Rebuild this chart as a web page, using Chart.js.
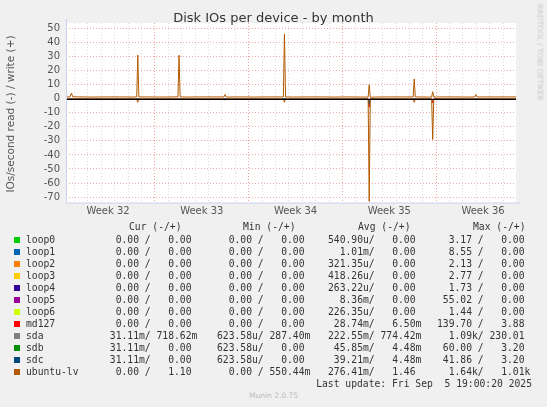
<!DOCTYPE html>
<html><head><meta charset="utf-8">
<script src="https://cdn.jsdelivr.net/npm/chart.js@4/dist/chart.umd.min.js"></script>
<style>
body{margin:0;background:#f0f0f0;width:547px;height:407px;position:relative;overflow:hidden;font-family:"DejaVu Sans",sans-serif}
#c{position:absolute;left:0;top:0}
.abs{position:absolute;white-space:pre}
.mono{font-family:"DejaVu Sans Mono",monospace;font-size:9.7px;color:#333;line-height:12px}
.sq{position:absolute;width:6px;height:6px}
</style></head><body>
<canvas id="c" width="547" height="225"></canvas>
<div class="abs" style="left:0;width:547px;top:10px;text-align:center;font-size:13px;color:#333">Disk IOs per device - by month</div>
<div class="abs" style="left:-90px;top:108px;width:200px;text-align:center;font-size:10.5px;color:#555;transform:rotate(-90deg)">IOs/second read (-) / write (+)</div>
<div class="abs" style="left:490px;top:48px;width:100px;text-align:center;font-size:7.5px;color:#c8c8c8;transform:rotate(90deg)">RRDTOOL / TOBI OETIKER</div>
<div class="abs" style="left:0;width:547px;top:391px;text-align:center;font-size:7.5px;color:#bbb">Munin 2.0.75</div>
<div id="leg"></div>
<script>
const weekLabels=['Week 32','Week 33','Week 34','Week 35','Week 36'];
const weekMid=[3.14,10.14,17.14,24.14,31.14];
const yTicks=[-70,-60,-50,-40,-30,-20,-10,0,10,20,30,40,50];
const lvX=[0,0.3,0.41,0.5, 1,2,3,4,5, 5.28,5.36,5.44, 6,7,8, 8.36,8.44,8.52, 9,10,11, 11.8,11.88,11.96, 12,13,14,15,16, 16.23,16.31,16.39, 17,18,19,20,21,22, 22.56,22.64,22.72, 23,24,25, 25.92,26,26.08, 27, 27.3,27.38,27.46, 28,29,30, 30.52,30.6,30.68, 31,32,33,33.6];
const lvWrite=[1.3,1.3,4,1.4, 1.3,1.2,1.3,1.3,1.2, 1.3,31,1.3, 1.3,1.2,1.3, 1.3,31,1.3, 1.2,1.3,1.3, 1.3,3,1.3, 1.2,1.3,1.2,1.3,1.3, 1.3,46,1.3, 1.2,1.3,1.3,1.2,1.3,1.2, 1.2,10,1.0, 1.2,1.3,1.3, 1.3,14,1.3, 1.2, 1.2,5,1.2, 1.3,1.3,1.2, 1.3,3,1.3, 1.3,1.3,1.3,1.3];
const lvRead=[-0.1,-0.1,-0.6,-0.1, -0.1,-0.1,-0.1,-0.1,-0.1, -0.1,-2.5,-0.1, -0.1,-0.1,-0.1, -0.1,-0.5,-0.1, -0.1,-0.1,-0.1, -0.1,-1,-0.1, -0.1,-0.1,-0.1,-0.1,-0.1, -0.1,-2.5,-0.1, -0.1,-0.1,-0.1,-0.1,-0.1,-0.1, -0.2,-73,-0.2, -0.1,-0.1,-0.1, -0.1,-2.5,-0.1, -0.1, -0.2,-29,-0.2, -0.1,-0.1,-0.1, -0.1,-0.8,-0.1, -0.1,-0.1,-0.1,-0.1];
const mdX=[0,22.56,22.64,22.72,27.3,27.38,27.46,33.6];
const mdRead=[0,0,-6,0,0,-3,0,0];
const sdcRead=[0,0,-4,0,0,-1,0,0];
const names=['loop0','loop1','loop2','loop3','loop4','loop5','loop6','md127','sda','sdb','sdc','ubuntu-lv'];
const colors=['#00cc00','#0066b3','#ff8000','#ffcc00','#330099','#990099','#ccff00','#ff0000','#808080','#008f00','#00487d','#b35a00'];
const cur=['  0.00 /   0.00','  0.00 /   0.00','  0.00 /   0.00','  0.00 /   0.00','  0.00 /   0.00','  0.00 /   0.00','  0.00 /   0.00','  0.00 /   0.00',' 31.11m/ 718.62m',' 31.11m/   0.00',' 31.11m/   0.00','  0.00 /   1.10'];
const mins=['  0.00 /   0.00','  0.00 /   0.00','  0.00 /   0.00','  0.00 /   0.00','  0.00 /   0.00','  0.00 /   0.00','  0.00 /   0.00','  0.00 /   0.00','623.58u/ 287.40m','623.58u/   0.00','623.58u/   0.00','  0.00 / 550.44m'];
const avgs=['540.90u/   0.00','  1.01m/   0.00','321.35u/   0.00','418.26u/   0.00','263.22u/   0.00','  8.36m/   0.00','226.35u/   0.00',' 28.74m/   6.50m','222.55m/ 774.42m',' 45.85m/   4.48m',' 39.21m/   4.48m','276.41m/   1.46'];
const maxs=['  3.17 /   0.00','  8.55 /   0.00','  2.13 /   0.00','  2.77 /   0.00','  1.73 /   0.00',' 55.02 /   0.00','  1.44 /   0.00','139.70 /   3.88','  1.09k/ 230.01',' 60.00 /   3.20',' 41.86 /   3.20','  1.64k/   1.01k'];

const leg=document.getElementById('leg');
function t(x,y,s,extra){const d=document.createElement('div');d.className='abs mono';d.style.left=x+'px';d.style.top=(y-6)+'px';d.textContent=s;if(extra)d.style.cssText+=extra;leg.appendChild(d);}
const colX=[104,217,328,437];
t(129,227,'Cur (-/+)');t(243,227,'Min (-/+)');t(358,227,'Avg (-/+)');t(473,227,'Max (-/+)');
names.forEach((n,i)=>{const y=240+i*12;
 const s=document.createElement('div');s.className='sq';s.style.left='14px';s.style.top=(y-3)+'px';s.style.background=colors[i];leg.appendChild(s);
 t(26,y,n);t(colX[0],y,cur[i]);t(colX[1],y,mins[i]);t(colX[2],y,avgs[i]);t(colX[3],y,maxs[i]);});
t(0,384,'Last update: Fri Sep  5 19:00:20 2025','left:auto;right:15px;');

const pts=(xs,ys)=>xs.map((x,i)=>({x,y:ys[i]}));
const ds=(d,c)=>({data:d,borderColor:c,borderWidth:1,pointRadius:0,tension:0,fill:false});
const bg={id:'bg',beforeDraw(ch){const a=ch.chartArea,c=ch.ctx;c.save();c.fillStyle='#fff';c.fillRect(a.left,a.top,a.right-a.left,a.bottom-a.top);c.restore();},
 afterDatasetsDraw(ch){const a=ch.chartArea,c=ch.ctx,y=ch.scales.y.getPixelForValue(0);c.save();c.strokeStyle='#000';c.lineWidth=1;c.beginPath();c.moveTo(a.left,Math.round(y)+0.5);c.lineTo(a.right,Math.round(y)+0.5);c.stroke();
 c.strokeStyle='#ccd0f0';c.beginPath();c.moveTo(a.left+0.5,a.top-4);c.lineTo(a.left+0.5,a.bottom);c.lineTo(a.right+4,a.bottom);c.stroke();c.restore();}};
new Chart(document.getElementById('c'),{type:'line',
 data:{datasets:[ds(pts(lvX,lvRead),colors[11]),ds(pts(mdX,sdcRead),colors[10]),ds(pts(mdX,mdRead),colors[7]),ds(pts(lvX,lvWrite),colors[11])]},
 options:{responsive:false,animation:false,layout:{padding:{top:23,right:31,left:0,bottom:0}},
  plugins:{legend:{display:false},tooltip:{enabled:false}},
  scales:{
   x:{type:'linear',min:0,max:33.6,
    afterBuildTicks(s){const a=[];for(let k=1;k<=33;k++)a.push({value:-0.36+k});weekMid.forEach(v=>a.push({value:v,lab:true}));s.ticks=a;},
    afterFit(s){s.height=22;},
    ticks:{autoSkip:false,maxRotation:0,color:'#555',font:{size:10,family:'DejaVu Sans'},padding:2,
     callback(v){const i=weekMid.indexOf(v);return i>=0?weekLabels[i]:'';}},
    grid:{drawTicks:false,lineWidth:1,
     color(c){const v=c.tick&&c.tick.value;if(weekMid.includes(v))return 'rgba(0,0,0,0)';const k=Math.round(v+0.36);return k%7===0?'#f0a0a0':'#dcdcdc';},
     tickBorderDash:[1,2]},border:{display:false,dash:[1,2]}},
   y:{min:-74.2,max:53.9,
    afterBuildTicks(s){s.ticks=yTicks.map(v=>({value:v}));},
    afterFit(s){s.width=66;},
    ticks:{color:'#555',font:{size:10,family:'DejaVu Sans'},padding:6},
    grid:{drawTicks:false,color:'#f0a8a8'},border:{display:false,dash:[1,2]}}
  }},plugins:[bg]});
Chart.defaults.font.family='DejaVu Sans';
</script>
<script>
// dashed grid lines
</script>
</body></html>
